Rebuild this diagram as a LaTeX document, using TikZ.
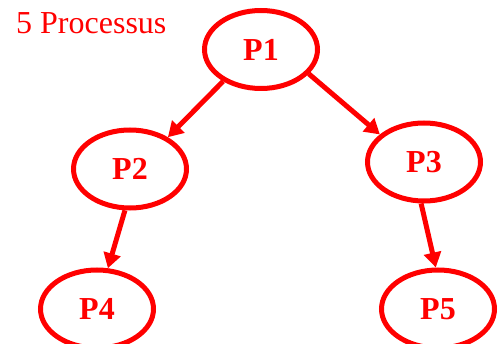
\documentclass[tikz,border=0pt]{standalone}
\usepackage{fontspec}
\setmainfont{Liberation Serif}
\usepackage{tikz}
\usetikzlibrary{arrows.meta,shapes.geometric}

\tikzset{
	proc/.style={shape=ellipse,draw=red,text=red,line width=5pt,minimum width=113pt,minimum height=78pt,inner sep=0pt,font=\fontsize{32}{36}\selectfont},
	link/.style={-{Triangle[length=15pt,width=17pt]},draw=red,line width=5pt}
}

\begin{document}
\begin{tikzpicture}[x=1pt,y=1pt]
	\useasboundingbox (0,0) rectangle (503,343);
	
	\node[anchor=base west,inner sep=0pt,text=red,font=\fontsize{32}{36}\selectfont] (title) at (16, 309) {5 Processus};
	
	\node[proc] (p1) at (261, 293.5) {\textbf{P1}};
	\node[proc] (p2) at (130, 174)   {\textbf{P2}};
	\node[proc] (p3) at (424, 181)   {\textbf{P3}};
	\node[proc] (p4) at (97, 34)     {\textbf{P4}};
	\node[proc] (p5) at (438, 34)    {\textbf{P5}};
	
	\draw[link] (p1.220) -- (p2.40);
	\draw[link] (p1.333) -- (p3.148);
	\draw[link] (p2.263) -- (p4.75);
	\draw[link] (p3.266) -- (p5.93);

\end{tikzpicture}
\end{document}
